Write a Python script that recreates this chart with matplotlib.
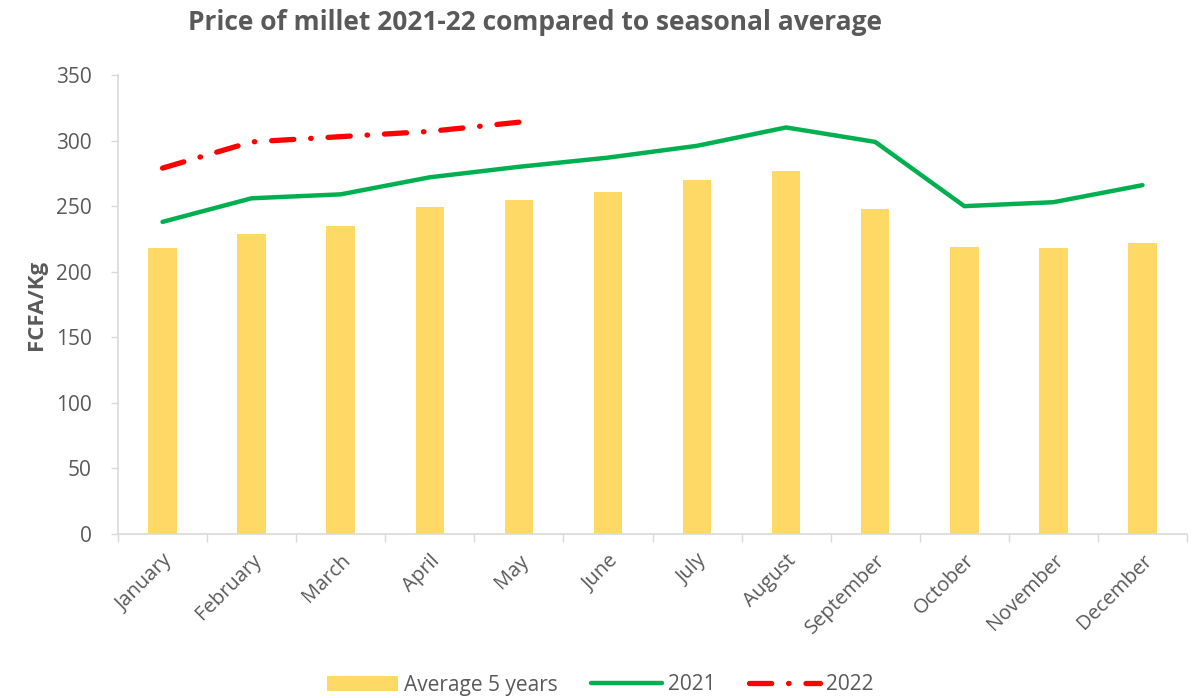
import matplotlib.pyplot as plt
import numpy as np

months = ["January", "February", "March", "April", "May", "June", "July",
          "August", "September", "October", "November", "December"]
avg_5y = [218, 229, 235, 249, 255, 261, 270, 277, 248, 219, 218, 222]
y2021 = [238, 256, 259, 272, 280, 287, 296, 310, 299, 250, 253, 266]
y2022 = [279, 299, 303, 307, 314]

GRAY = "#595959"
AXIS = "#D9D9D9"

plt.rcParams["font.family"] = ["Open Sans", "DejaVu Sans"]

fig = plt.figure(figsize=(12.01, 6.98), dpi=100)
ax = fig.add_axes([118 / 1201, 1 - 534 / 698, (1187 - 118) / 1201, (534 - 75) / 698])

x = np.arange(len(months))
bars = ax.bar(x, avg_5y, width=0.32, color="#FFD966", label="Average 5 years", zorder=1)
l21, = ax.plot(x, y2021, color="#00B050", lw=3.2, solid_capstyle="round",
               label="2021", zorder=2)
l22, = ax.plot(x[:len(y2022)], y2022, color="#FF0000", lw=3.8,
               linestyle=(0, (4.2, 3.2, 0.1, 3.2)), dash_capstyle="round",
               label="2022", zorder=3)

ax.set_xlim(-0.5, len(months) - 0.5)
ax.set_ylim(0, 350)
ax.set_yticks(range(0, 351, 50))
ax.set_xticks(x)
ax.set_xticklabels(months, rotation=45, ha="right", rotation_mode="anchor",
                   fontsize=14.5, color=GRAY)
ax.tick_params(axis="x", length=0, pad=12)
ax.set_xticks(np.arange(-0.5, len(months), 1), minor=True)
ax.tick_params(axis="x", which="minor", length=6, color=AXIS, width=1)
ax.tick_params(axis="y", labelsize=15, labelcolor=GRAY, color=AXIS,
               length=5, width=1, pad=14)

for side in ["top", "right"]:
    ax.spines[side].set_visible(False)
for side in ["left", "bottom"]:
    ax.spines[side].set_color(AXIS)
    ax.spines[side].set_linewidth(1.2)

ax.set_ylabel("FCFA/Kg", fontsize=16, fontweight="bold", color=GRAY, labelpad=6)

fig.text(535 / 1201, 1 - 22 / 698, "Price of millet 2021-22 compared to seasonal average",
         ha="center", va="center", fontsize=19, fontweight="bold", color=GRAY)

fig.legend([bars, l21, l22], ["Average 5 years", "2021", "2022"],
           loc="center", bbox_to_anchor=(0.5, 1 - 685 / 698), ncol=3, frameon=False,
           fontsize=15, labelcolor=GRAY, handlelength=3.4, columnspacing=1.6,
           handletextpad=0.3)

fig.savefig("out.png", dpi=100)
